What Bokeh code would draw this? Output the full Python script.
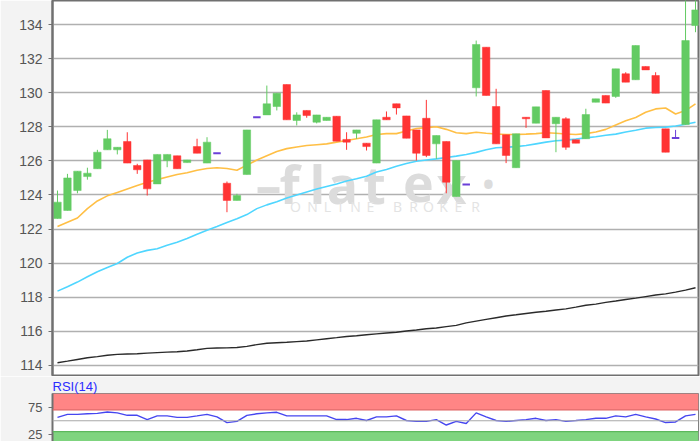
from bokeh.plotting import figure
from bokeh.models import ColumnDataSource, Range1d, FixedTicker, BoxAnnotation, Span, Label
from bokeh.layouts import column
from bokeh.embed import file_html
from bokeh.resources import INLINE

# ---------------- data ----------------
idx = list(range(65))
opens = [122.62, 123.09, 124.26, 125.08, 125.54, 126.65, 126.65, 127.14, 125.73, 126.06,
         124.65, 126.02, 126.30, 125.90, 126.84, 125.87, 126.45, 124.69, 123.68, 125.20,
         128.56, 128.70, 129.19, 130.48, 128.37, 128.96, 128.27, 128.37, 128.62, 127.26,
         127.62, 127.04, 125.87, 128.56, 129.35, 128.64, 127.82, 128.50, 127.00, 127.14,
         123.91, 124.62, 130.29, 132.67, 129.19, 127.53, 125.60, 128.56, 128.21, 130.13,
         128.18, 128.47, 127.24, 127.30, 129.44, 129.84, 129.78, 131.11, 130.76, 131.54,
         131.01, 127.88, 127.35, 128.13, 133.94]
highs = [124.26, 125.24, 125.40, 125.60, 126.65, 127.82, 126.80, 127.68, 125.83, 126.06,
         126.38, 126.38, 126.30, 126.06, 127.30, 127.39, 126.45, 124.79, 124.07, 127.82,
         128.56, 130.42, 129.97, 130.48, 128.85, 128.96, 128.70, 128.56, 128.62, 127.68,
         127.82, 127.04, 128.41, 128.90, 129.35, 128.64, 127.82, 129.58, 127.49, 127.14,
         126.02, 124.62, 133.06, 132.67, 130.23, 127.53, 127.59, 128.56, 129.17, 130.13,
         128.56, 128.56, 127.24, 129.06, 129.64, 129.84, 131.40, 131.20, 132.77, 131.54,
         131.20, 127.88, 127.82, 136.00, 136.00]
lows = [122.62, 123.09, 124.10, 124.90, 125.54, 126.65, 126.38, 125.87, 125.24, 123.97,
        124.65, 125.63, 125.54, 125.90, 126.45, 125.87, 126.45, 122.99, 123.68, 125.20,
        128.56, 128.70, 128.96, 128.41, 128.08, 128.53, 128.20, 128.37, 127.16, 126.65,
        127.30, 126.61, 125.87, 128.41, 128.72, 127.33, 126.02, 126.22, 126.12, 124.10,
        123.91, 124.62, 129.78, 129.84, 127.00, 125.87, 125.60, 127.94, 128.21, 127.35,
        126.51, 126.65, 127.04, 127.30, 129.44, 129.39, 129.70, 130.62, 130.76, 131.34,
        129.97, 126.51, 127.35, 128.13, 133.55]
closes = [123.58, 125.00, 125.40, 125.28, 126.51, 127.30, 126.80, 125.87, 125.48, 124.36,
          126.38, 126.38, 125.54, 126.06, 126.45, 127.10, 126.45, 123.68, 123.97, 127.82,
          128.56, 129.35, 129.97, 128.41, 128.70, 128.66, 128.70, 128.56, 127.16, 127.10,
          127.82, 126.84, 128.41, 128.41, 129.11, 127.33, 126.45, 126.32, 127.49, 124.75,
          126.02, 124.62, 132.83, 129.84, 127.00, 126.32, 127.59, 128.47, 129.17, 127.35,
          128.56, 126.80, 127.04, 128.72, 129.64, 129.39, 131.40, 130.62, 132.77, 131.34,
          129.97, 126.51, 127.35, 133.06, 134.86]
ma_fast = [122.15, 122.40, 122.65, 123.20, 123.65, 123.95, 124.15, 124.35, 124.55, 124.75,
           124.90, 125.05, 125.20, 125.30, 125.45, 125.55, 125.60, 125.55, 125.45, 125.75,
           126.05, 126.30, 126.55, 126.72, 126.82, 126.90, 126.95, 127.00, 127.10, 127.20,
           127.30, 127.40, 127.55, 127.60, 127.60, 127.75, 127.90, 127.95, 128.00, 127.85,
           127.65, 127.60, 127.68, 127.62, 127.58, 127.55, 127.55, 127.57, 127.60, 127.65,
           127.62, 127.58, 127.55, 127.60, 127.70, 127.85, 128.10, 128.35, 128.55, 128.85,
           129.05, 129.10, 128.75, 128.95, 129.35]
ma_mid = [118.36, 118.62, 118.89, 119.20, 119.50, 119.75, 119.98, 120.35, 120.60, 120.75,
          120.85, 121.05, 121.23, 121.45, 121.70, 121.93, 122.15, 122.38, 122.60, 122.85,
          123.20, 123.42, 123.60, 123.82, 124.00, 124.18, 124.35, 124.50, 124.65, 124.82,
          124.95, 125.10, 125.35, 125.50, 125.68, 125.85, 125.98, 126.05, 126.12, 126.20,
          126.28, 126.38, 126.50, 126.65, 126.77, 126.80, 126.84, 126.90, 127.00, 127.10,
          127.18, 127.22, 127.28, 127.35, 127.42, 127.50, 127.57, 127.70, 127.80, 127.92,
          127.96, 127.98, 128.05, 128.15, 128.27]
ma_slow = [114.16, 114.25, 114.35, 114.45, 114.52, 114.60, 114.65, 114.67, 114.69, 114.72,
           114.75, 114.78, 114.80, 114.85, 114.92, 115.00, 115.02, 115.03, 115.05, 115.12,
           115.22, 115.30, 115.33, 115.36, 115.40, 115.43, 115.50, 115.57, 115.63, 115.70,
           115.74, 115.80, 115.85, 115.90, 115.95, 116.02, 116.08, 116.15, 116.20, 116.28,
           116.35, 116.50, 116.60, 116.70, 116.80, 116.90, 116.97, 117.05, 117.12, 117.18,
           117.25, 117.32, 117.42, 117.53, 117.60, 117.70, 117.78, 117.87, 117.95, 118.04,
           118.13, 118.20, 118.30, 118.42, 118.56]
rsi = [56.2, 61.7, 61.7, 62.8, 63.5, 66.2, 64.5, 60.0, 60.0, 52.2,
       58.9, 58.9, 56.2, 56.2, 58.9, 61.7, 57.2, 46.7, 48.9, 60.0,
       62.8, 64.5, 65.5, 58.9, 58.9, 58.9, 58.9, 58.9, 52.2, 52.2,
       54.5, 50.5, 57.2, 57.2, 58.9, 50.5, 48.9, 48.9, 52.2, 42.2,
       48.9, 45.0, 64.5, 57.2, 50.5, 48.9, 50.5, 52.2, 54.5, 50.5,
       52.2, 48.9, 50.5, 52.2, 54.5, 54.5, 58.9, 57.2, 61.7, 57.2,
       53.3, 46.7, 47.8, 58.9, 61.7]
price_ticks = [114, 116, 118, 120, 122, 124, 126, 128, 130, 132, 134]
rsi_ticks = [25, 75]
rsi_upper = 70
rsi_lower = 30
rsi_mid = 50

# ---------------- styling ----------------
GREEN = "#63cb63"
RED = "#ff3333"
DOJI = "#6a3fd8"
BG = "#f3f3f3"
FONT = "Liberation Sans"

body = dict(x=[], top=[], bottom=[], color=[])
doji = dict(x=[], y=[], color=[])
wick = dict(x=[], high=[], low=[], color=[])
for i, o, h, l, c in zip(idx, opens, highs, lows, closes):
    col = GREEN if c > o else (RED if c < o else DOJI)
    wick["x"].append(i); wick["high"].append(h); wick["low"].append(l); wick["color"].append(col)
    if c == o:
        doji["x"].append(i); doji["y"].append(c); doji["color"].append(col)
    else:
        body["x"].append(i); body["top"].append(max(o, c)); body["bottom"].append(min(o, c)); body["color"].append(col)

xr = Range1d(-0.5, 64.3)

p = figure(width=700, height=376, x_range=xr, y_range=Range1d(113.41, 135.41),
           output_backend="svg", toolbar_location=None, x_axis_location=None,
           min_border_left=52, min_border_right=2, min_border_top=0, min_border_bottom=1,
           background_fill_color="white", border_fill_color=BG,
           outline_line_color="#707070", outline_line_width=2)
p.xgrid.visible = False
p.ygrid.grid_line_color = "#b0b0b0"
p.ygrid.grid_line_width = 1.5
p.yaxis.ticker = FixedTicker(ticks=price_ticks)
p.yaxis.minor_tick_line_color = None
p.yaxis.major_tick_out = 4
p.yaxis.major_tick_in = 0
p.yaxis.major_tick_line_color = "#707070"
p.yaxis.axis_line_color = "#707070"
p.yaxis.axis_line_width = 2
p.yaxis.major_label_text_font = FONT
p.yaxis.major_label_text_font_size = "14px"
p.yaxis.major_label_text_color = "#555555"
p.yaxis.major_label_standoff = 6

# watermark
wm_letters = ["\u2013", "f", "l", "a", "t", "e", "x", "\u2022"]
wm_px = [268, 289, 317, 342, 374, 418, 451, 488]
for ch, px in zip(wm_letters, wm_px):
    p.add_layout(Label(x=(px - 57) / 9.97, y=124.67, text=ch, text_align="center",
                       text_baseline="alphabetic", text_font="Open Sans",
                       text_font_style="bold",
                       text_font_size="52px" if ch != "\u2022" else "30px",
                       text_color="#dcdcdc", level="underlay"))
sub_letters = list("ONLINEBROKER")
sub_px = [295, 312, 327, 340, 355, 370, 397, 413, 428, 443, 458, 475]
for ch, px in zip(sub_letters, sub_px):
    p.add_layout(Label(x=(px - 57) / 9.97, y=123.33, text=ch, text_align="center",
                       text_baseline="middle", text_font="Open Sans",
                       text_font_size="14px", text_color="#e3e3e3", level="underlay"))

# moving averages
p.line(idx, ma_slow, line_color="#2a2a2a", line_width=1.4)
p.line(idx, ma_mid, line_color="#4fd6ff", line_width=1.6)
p.line(idx, ma_fast, line_color="#ffbf45", line_width=1.6)

# candles
p.segment(x0="x", y0="high", x1="x", y1="low", color="color", line_width=1,
          source=ColumnDataSource(wick))
p.vbar(x="x", top="top", bottom="bottom", width=0.75, fill_color="color",
       line_color="color", line_width=0.5, source=ColumnDataSource(body))
p.rect(x="x", y="y", width=0.75, height=2, height_units="screen", fill_color="color",
       line_color=None, source=ColumnDataSource(doji))

# ---------------- RSI panel ----------------
r = figure(width=700, height=65, x_range=xr, y_range=Range1d(12, 100),
           output_backend="svg", toolbar_location=None, x_axis_location=None,
           min_border_left=52, min_border_right=2, min_border_top=0, min_border_bottom=0,
           background_fill_color="white", border_fill_color=BG,
           outline_line_color="#808080", outline_line_width=1,
           title="RSI(14)")
r.title.text_font = FONT
r.title.text_font_size = "13px"
r.title.text_font_style = "normal"
r.title.text_color = "#2b2bff"
r.title.align = "left"
r.title.standoff = 0
r.title.offset = 0
r.xgrid.visible = False
r.ygrid.visible = False
r.yaxis.ticker = FixedTicker(ticks=rsi_ticks)
r.yaxis.minor_tick_line_color = None
r.yaxis.major_tick_out = 4
r.yaxis.major_tick_in = 0
r.yaxis.major_tick_line_color = "#707070"
r.yaxis.axis_line_color = "#707070"
r.yaxis.axis_line_width = 2
r.yaxis.major_label_text_font = FONT
r.yaxis.major_label_text_font_size = "13px"
r.yaxis.major_label_text_color = "#555555"
r.yaxis.major_label_standoff = 6

r.add_layout(BoxAnnotation(bottom=rsi_upper, fill_color="#ff8585", fill_alpha=1,
                           line_color=None, level="underlay"))
r.add_layout(BoxAnnotation(top=rsi_lower, fill_color="#7fd47f", fill_alpha=1,
                           line_color=None, level="underlay"))
r.add_layout(Span(location=rsi_upper, dimension="width", line_color="#e06262", line_width=1.2))
r.add_layout(Span(location=rsi_lower, dimension="width", line_color="#5cb85c", line_width=1.2))
r.add_layout(Span(location=rsi_mid, dimension="width", line_color="#a8a8a8", line_width=1.2))
r.line(idx, rsi, line_color="#4646f0", line_width=1.4)

layout = column(p, r, spacing=0)
open("out.html", "w").write(file_html(layout, INLINE))
